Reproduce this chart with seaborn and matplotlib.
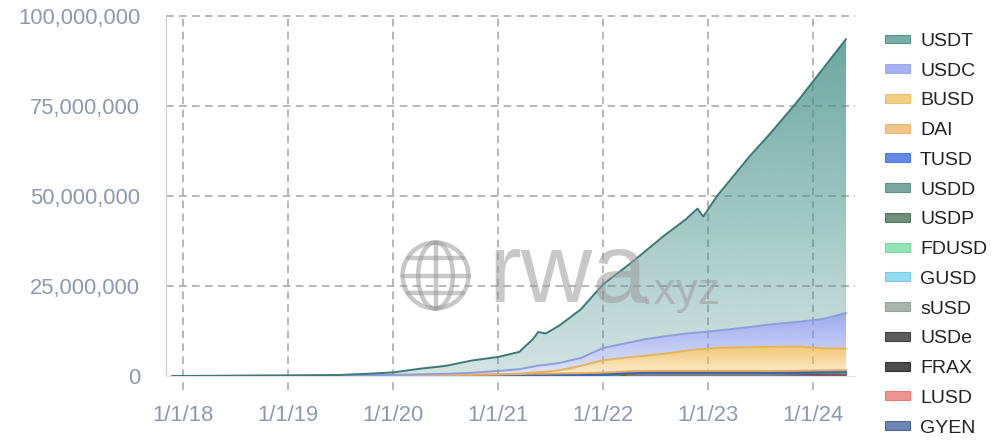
import matplotlib

matplotlib.use("Agg")
import matplotlib.dates as mdates
import matplotlib.pyplot as plt
import matplotlib.ticker as mticker
import numpy as np
import pandas as pd
import seaborn as sns
from matplotlib.colors import to_rgb
from matplotlib.lines import Line2D
from matplotlib.patches import Circle, Ellipse, Patch

dates = [
    "2017-11-25", "2018-06-01", "2019-01-01", "2019-07-01", "2019-10-01",
    "2020-01-01", "2020-04-01", "2020-07-01", "2020-10-01", "2021-01-01",
    "2021-03-15", "2021-05-01", "2021-05-20", "2021-06-15", "2021-08-01",
    "2021-10-15", "2022-01-01", "2022-04-01", "2022-05-25", "2022-08-01",
    "2022-10-15", "2022-11-25", "2022-12-15", "2023-02-01", "2023-05-25",
    "2023-08-01", "2023-11-05", "2024-02-01", "2024-04-25",
]

# values in millions, one list per coin (layer thickness)
usdt = [0, 0.02, 0.03, 0.17, 0.38, 0.68, 1.55, 2.2, 3.4, 3.9, 4.8, 7.6, 9.3, 8.7, 10.4,
        13.5, 17.7, 21.7, 24.3, 28.0, 31.7, 34.4, 32.1, 37.4, 47.4, 52.7, 61.0, 69.2, 76.1]
usdc = [0, 0.01, 0.02, 0.03, 0.09, 0.14, 0.23, 0.3, 0.52, 0.9, 1.25, 1.65, 1.85, 1.95, 2.0,
        2.2, 3.4, 4.1, 4.6, 4.8, 4.8, 4.7, 4.7, 4.8, 5.6, 6.2, 6.8, 8.1, 9.9]
busd = [0, 0, 0, 0.01, 0.01, 0.02, 0.02, 0.03, 0.05, 0.09, 0.14, 0.31, 0.41, 0.5, 0.88,
        2.01, 3.46, 3.92, 4.19, 4.77, 5.57, 5.97, 6.07, 6.37, 6.57, 6.7, 6.73, 6.12, 5.97]
dai = [0, 0, 0, 0.01, 0.02, 0.03, 0.05, 0.08, 0.12, 0.15, 0.2, 0.25, 0.25, 0.25, 0.3,
       0.35, 0.4, 0.4, 0.4, 0.4, 0.4, 0.4, 0.4, 0.4, 0.4, 0.4, 0.4, 0.4, 0.4]
tusd = [0, 0.01, 0.02, 0.04, 0.05, 0.06, 0.08, 0.1, 0.12, 0.15, 0.17, 0.2, 0.2, 0.2, 0.2,
        0.2, 0.2, 0.2, 0.2, 0.2, 0.2, 0.2, 0.2, 0.2, 0.2, 0.15, 0.15, 0.15, 0.15]
usdd = [0, 0, 0, 0, 0, 0, 0, 0, 0, 0, 0, 0, 0, 0, 0,
        0, 0, 0, 0.03, 0.05, 0.05, 0.05, 0.05, 0.05, 0.05, 0.05, 0.05, 0.05, 0.05]
usdp = [0, 0.01, 0.02, 0.03, 0.04, 0.05, 0.05, 0.06, 0.06, 0.07, 0.07, 0.08, 0.08, 0.08, 0.08,
        0.08, 0.08, 0.08, 0.08, 0.08, 0.08, 0.08, 0.08, 0.08, 0.08, 0.08, 0.08, 0.08, 0.08]
fdusd = [0, 0, 0, 0, 0, 0, 0, 0, 0, 0, 0, 0, 0, 0, 0,
         0, 0, 0, 0, 0, 0, 0, 0, 0, 0, 0.02, 0.04, 0.05, 0.05]
gusd = [0, 0, 0.01, 0.01, 0.01, 0.01, 0.01, 0.01, 0.01, 0.01, 0.02, 0.02, 0.02, 0.02, 0.02,
        0.02, 0.02, 0.02, 0.02, 0.02, 0.02, 0.02, 0.02, 0.02, 0.02, 0.02, 0.02, 0.02, 0.02]
susd = [0, 0, 0, 0, 0, 0.01, 0.01, 0.02, 0.02, 0.03, 0.03, 0.04, 0.04, 0.04, 0.04,
        0.04, 0.04, 0.03, 0.03, 0.03, 0.03, 0.03, 0.03, 0.03, 0.03, 0.03, 0.03, 0.03, 0.03]
usde = [0, 0, 0, 0, 0, 0, 0, 0, 0, 0, 0, 0, 0, 0, 0,
        0, 0, 0, 0, 0, 0, 0, 0, 0, 0, 0, 0, 0.05, 0.1]
frax = [0, 0, 0, 0, 0, 0, 0, 0, 0, 0, 0.02, 0.05, 0.05, 0.06, 0.08,
        0.1, 0.15, 0.25, 0.3, 0.3, 0.3, 0.3, 0.3, 0.3, 0.3, 0.3, 0.3, 0.3, 0.3]
lusd = [0, 0, 0, 0, 0, 0, 0, 0, 0, 0, 0, 0, 0, 0, 0,
        0, 0, 0, 0, 0, 0, 0, 0, 0, 0, 0, 0.1, 0.15, 0.15]
gyen = [0, 0, 0, 0, 0, 0, 0, 0, 0, 0, 0, 0, 0, 0, 0,
        0, 0.05, 0.3, 0.35, 0.35, 0.35, 0.35, 0.35, 0.35, 0.35, 0.35, 0.3, 0.3, 0.3]

names = ["USDT", "USDC", "BUSD", "DAI", "TUSD", "USDD", "USDP", "FDUSD",
         "GUSD", "sUSD", "USDe", "FRAX", "LUSD", "GYEN"]
layers = [usdt, usdc, busd, dai, tusd, usdd, usdp, fdusd, gusd, susd, usde, frax, lusd, gyen]

fill_colors = ["#4b938d", "#8799ea", "#f0bd55", "#f0b45e", "#2f62e0", "#4f8a7f",
               "#3f6b4d", "#6fdc9c", "#6fd0ee", "#8f9c96", "#262626", "#111111",
               "#ee6f6f", "#3b5f9e"]
line_colors = ["#3a7a74", "#8c9de2", "#e6b25e", "#e8aa55", "#2f62e0", "#3f7a70",
               "#2f5a3d", "#5fcc8c", "#5fc0de", "#7f8c86", "#1a1a1a", "#0d0d0d",
               "#e05f5f", "#2e4a78"]

tick_gray = "#8d99aa"


def gradient_fill(ax, x, lower, upper, color, z):
    poly = ax.fill_between(x, lower, upper, facecolor="none", edgecolor="none", zorder=z)
    xn = mdates.date2num(x)
    ylo, yhi = float(np.min(lower)), float(np.max(upper))
    if yhi - ylo <= 0:
        return
    grad = np.zeros((256, 1, 4))
    grad[:, 0, :3] = to_rgb(color)
    grad[:, 0, 3] = np.linspace(0.25, 0.82, 256)
    im = ax.imshow(grad, extent=[xn[0], xn[-1], ylo, yhi], origin="lower",
                   aspect="auto", interpolation="bilinear", zorder=z)
    im.set_clip_path(poly.get_paths()[0], transform=ax.transData)


def main():
    sns.set_theme(style="white")
    plt.rcParams["font.family"] = ["Liberation Sans", "DejaVu Sans"]

    fig = plt.figure(figsize=(10, 4.44), dpi=100)
    ax = fig.add_axes([0.166, 1 - 376 / 444, (855 - 166) / 1000, 360 / 444])

    x = pd.to_datetime(dates)
    wide = pd.DataFrame({n: np.array(v) * 1e6 for n, v in zip(names, layers)}, index=x)
    order = names[::-1]  # bottom of the stack first
    cum = wide[order].cumsum(axis=1)

    lower = np.zeros(len(x))
    for i, n in enumerate(order):
        k = names.index(n)
        upper = cum[n].to_numpy()
        gradient_fill(ax, x, lower, upper, fill_colors[k], 2 + i * 0.1)
        lower = upper

    long = cum.reset_index(names="date").melt(id_vars="date", var_name="coin", value_name="top")
    sns.lineplot(data=long, x="date", y="top", hue="coin", hue_order=order,
                 palette=[line_colors[names.index(n)] for n in order],
                 estimator=None, linewidth=1.4, legend=False, ax=ax, zorder=4)

    xmin, xmax = pd.Timestamp("2017-11-02"), pd.Timestamp("2024-05-26")
    ax.set_xlim(xmin, xmax)
    ax.set_ylim(0, 100_000_000)
    ax.set_xlabel("")
    ax.set_ylabel("")

    ax.yaxis.set_major_locator(mticker.MultipleLocator(25_000_000))
    ax.yaxis.set_major_formatter(mticker.StrMethodFormatter("{x:,.0f}"))
    ax.xaxis.set_major_locator(mdates.YearLocator())
    ax.xaxis.set_major_formatter(
        mticker.FuncFormatter(lambda v, p: "{0.month}/{0.day}/{0:%y}".format(mdates.num2date(v))))
    ax.tick_params(axis="y", length=0, pad=18.5, labelsize=15.8, labelcolor=tick_gray)
    ax.tick_params(axis="x", length=0, pad=21, labelsize=15.8, labelcolor=tick_gray)

    # dashed grid, vertical lines run a bit below the axis
    grid = dict(color="#a3a3a3", lw=1.1, ls=(0, (5, 3.5)), zorder=1, clip_on=False)
    for yv in [25e6, 50e6, 75e6, 100e6]:
        ax.axhline(yv, **grid)
    lo, hi = mdates.date2num(xmin), mdates.date2num(xmax)
    for t in ax.get_xticks():
        if lo <= t <= hi:
            ax.plot([t, t], [-0.04, 1], transform=ax.get_xaxis_transform(), **grid)

    for s in ["top", "right"]:
        ax.spines[s].set_visible(False)
    ax.spines["left"].set_color("#cfcfcf")
    ax.spines["left"].set_linewidth(0.9)
    ax.spines["bottom"].set_color("#dfe5ec")
    ax.spines["bottom"].set_linewidth(0.9)

    # watermark
    wm = "#9c9c9c"
    fig.text(0.488, 1 - 302 / 444, "rwa", fontsize=71, color=wm, alpha=0.55, va="baseline")
    fig.text(0.641, 1 - 304 / 444, ".xyz", fontsize=32, color=wm, alpha=0.55, va="baseline")
    cx, cy, r = 4.355, (444 - 275.5) / 100, 0.33
    tr = fig.dpi_scale_trans
    globe = dict(fill=False, lw=3.2, ec=wm, alpha=0.55, transform=tr)
    fig.add_artist(Circle((cx, cy), r, **globe))
    fig.add_artist(Ellipse((cx, cy), r * 1.05, 2 * r, **globe))
    gl = dict(color=wm, lw=3.2, alpha=0.55, transform=tr)
    fig.add_artist(Line2D([cx, cx], [cy - r, cy + r], **gl))
    fig.add_artist(Line2D([cx - r, cx + r], [cy, cy], **gl))
    for dy in [-0.54 * r, 0.54 * r]:
        half = np.sqrt(r ** 2 - dy ** 2)
        fig.add_artist(Line2D([cx - half, cx + half], [cy + dy, cy + dy], **gl))

    handles = [Patch(facecolor=fill_colors[k], edgecolor=line_colors[k], alpha=0.75, lw=0.8)
               for k in range(len(names))]
    fig.legend(handles, names, loc="upper left", bbox_to_anchor=(0.885, 1 - 33 / 444),
               frameon=False, fontsize=14, borderpad=0, borderaxespad=0,
               handlelength=1.3, handleheight=0.33, handletextpad=0.5,
               labelspacing=0.655, labelcolor="#222222")

    fig.savefig("out.png", dpi=100, facecolor="white")


if __name__ == "__main__":
    main()
